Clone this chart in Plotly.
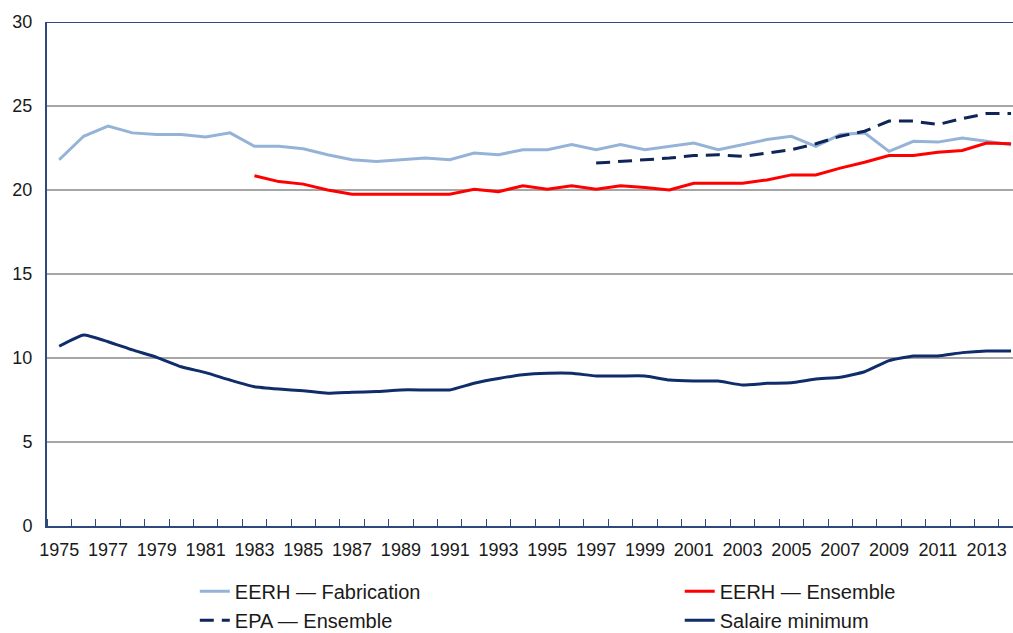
import plotly.graph_objects as go

years = list(range(1975, 2015))

fabrication = [21.8, 23.2, 23.8, 23.4, 23.3, 23.3, 23.15, 23.4, 22.6, 22.6,
               22.45, 22.1, 21.8, 21.7, 21.8, 21.9, 21.8, 22.2, 22.1, 22.4,
               22.4, 22.7, 22.4, 22.7, 22.4, 22.6, 22.8, 22.4, 22.7, 23.0,
               23.2, 22.6, 23.3, 23.4, 22.3, 22.9, 22.85, 23.1, 22.9, 22.7]

ens_years = list(range(1983, 2015))
ensemble = [20.85, 20.5, 20.35, 20.0, 19.75, 19.75, 19.75, 19.75, 19.75, 20.05,
            19.9, 20.25, 20.05, 20.25, 20.05, 20.25, 20.15, 20.0, 20.4, 20.4,
            20.4, 20.6, 20.9, 20.9, 21.3, 21.65, 22.05, 22.05, 22.25, 22.35,
            22.8, 22.75]

epa_years = list(range(1997, 2015))
epa = [21.6, 21.7, 21.8, 21.9, 22.05, 22.1, 22.0, 22.2, 22.4, 22.75,
       23.2, 23.5, 24.1, 24.1, 23.9, 24.25, 24.55, 24.55]

smic = [10.7, 11.37, 10.97, 10.48, 10.04, 9.48, 9.13, 8.69, 8.29, 8.15,
        8.05, 7.9, 7.96, 8.0, 8.1, 8.1, 8.1, 8.5, 8.78, 9.0,
        9.09, 9.09, 8.93, 8.93, 8.93, 8.69, 8.63, 8.63, 8.39, 8.49,
        8.53, 8.75, 8.85, 9.18, 9.84, 10.12, 10.12, 10.32, 10.42, 10.42]

y_ticks = [0, 5, 10, 15, 20, 25, 30]
x_labels = list(range(1975, 2014, 2))

AXIS = "#2E4A7D"
FONT = "Liberation Sans, Arial, sans-serif"
TXT = "#1a1a1a"

fig = go.Figure()
fig.add_trace(go.Scatter(x=years, y=fabrication, mode="lines", name="EERH — Fabrication",
                         line=dict(color="#95B3D7", width=3), legend="legend"))
fig.add_trace(go.Scatter(x=ens_years, y=ensemble, mode="lines", name="EERH — Ensemble",
                         line=dict(color="#FF0000", width=3), legend="legend2"))
fig.add_trace(go.Scatter(x=epa_years, y=epa, mode="lines", name="EPA — Ensemble",
                         line=dict(color="#0F2557", width=3, dash="14px,8px"), legend="legend"))
fig.add_trace(go.Scatter(x=years, y=smic, mode="lines", name="Salaire minimum",
                         line=dict(color="#0F2D6B", width=3, shape="spline", smoothing=0.4),
                         legend="legend2"))

leg_common = dict(orientation="v", yanchor="top", y=-0.091, xanchor="left",
                  font=dict(size=20, color=TXT, family=FONT), traceorder="normal",
                  bgcolor="rgba(0,0,0,0)", tracegroupgap=0)

fig.update_layout(
    width=1013, height=633,
    margin=dict(l=47, r=0, t=22, b=107, autoexpand=False),
    paper_bgcolor="white", plot_bgcolor="white",
    font=dict(family=FONT, size=18, color=TXT),
    showlegend=True,
    legend=dict(x=0.153, **leg_common),
    legend2=dict(x=0.655, **leg_common),
    xaxis=dict(range=[1974.5, 2014.08], tickmode="array", tickvals=x_labels,
               ticktext=[str(v) for v in x_labels], ticks="", showgrid=False,
               showline=True, linecolor=AXIS, linewidth=2, zeroline=False,
               tickfont=dict(size=18), ticklabelstandoff=6, automargin=False,
               minor=dict(tickmode="linear", tick0=1974.5, dtick=1, ticks="inside",
                          ticklen=7, tickcolor=AXIS, tickwidth=1, showgrid=False),
               fixedrange=True),
    yaxis=dict(range=[0, 30], tickvals=y_ticks, showgrid=True, gridcolor="#A6A6A6",
               gridwidth=1.5, showline=True, linecolor=AXIS, linewidth=2, zeroline=False,
               ticks="", tickfont=dict(size=18), ticklabelstandoff=9, automargin=False,
               fixedrange=True),
)
fig.add_shape(type="line", xref="paper", yref="y", x0=0, x1=1, y0=30, y1=30,
              line=dict(color=AXIS, width=2), layer="above")

fig.write_html("out.html", config={"displayModeBar": False},
               post_script="document.body.style.margin='0';document.body.style.overflow='hidden';")
